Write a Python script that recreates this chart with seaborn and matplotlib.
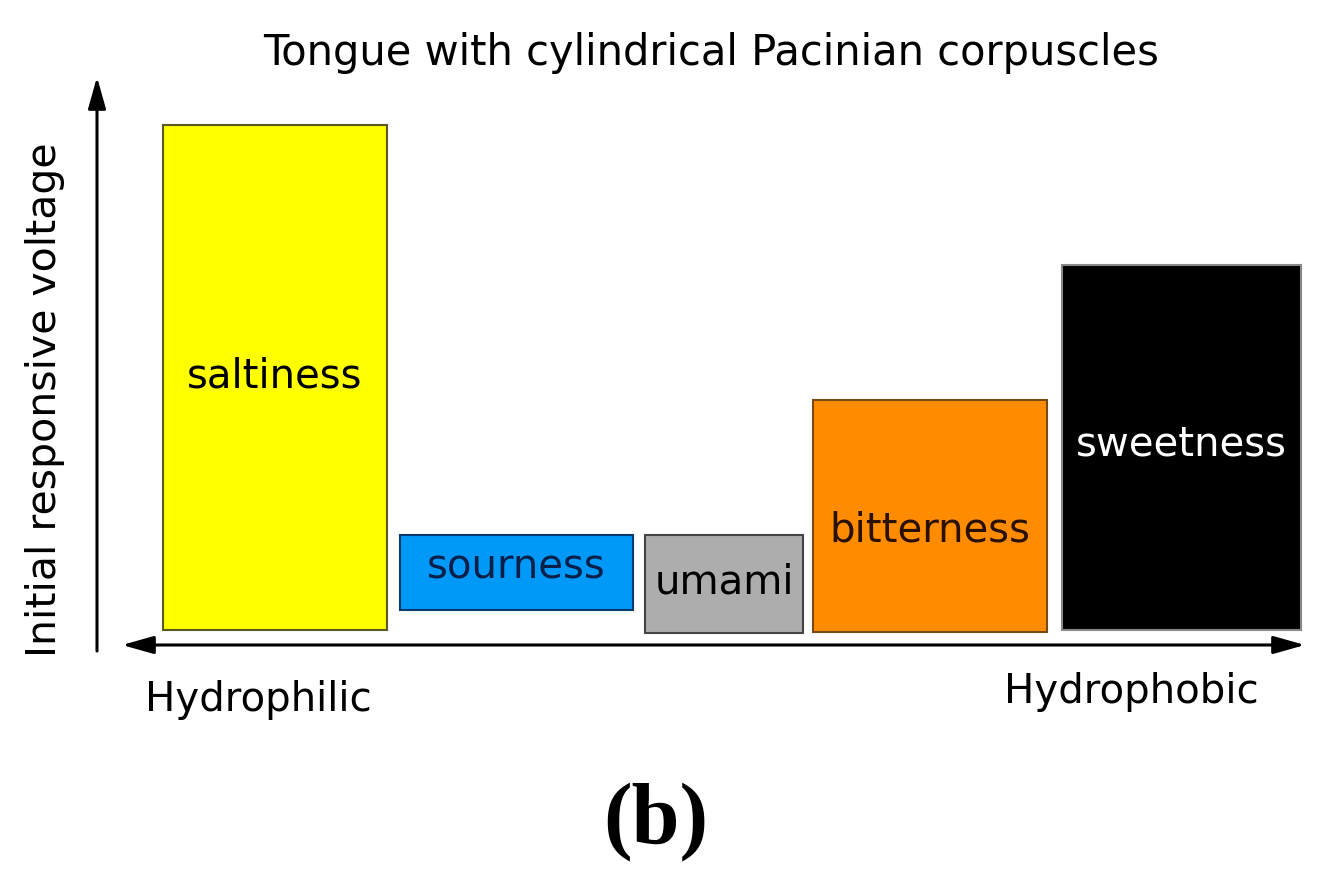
import matplotlib
matplotlib.use("Agg")
import matplotlib.pyplot as plt
import seaborn as sns

# taste responses (arbitrary voltage units, baseline = axis)
tastes = ["saltiness", "sourness", "umami", "bitterness", "sweetness"]
voltage_top = [520, 110, 110, 245, 380]
voltage_bottom = [15, 35, 12, 13, 15]

# layout along the hydrophilic -> hydrophobic axis
bar_left = [66, 303, 548, 716, 965]
bar_width = [224, 233, 158, 234, 239]
label_y = [268, 78, 63, 115, 200]

face_colors = ["#FFFF00", "#0099F7", "#ADADAD", "#FF8C00", "#000000"]
edge_colors = ["#5a5a20", "#0b3a70", "#444444", "#7a4a10", "#888888"]
text_colors = ["#000000", "#06204a", "#000000", "#2a1000", "#FFFFFF"]

sns.set_theme(style="white")
plt.rcParams["font.family"] = ["DejaVu Sans"]
plt.rcParams["text.color"] = "black"

fig = plt.figure(figsize=(13.24, 8.8), dpi=100)
ax = fig.add_axes([97 / 1324, 235 / 880, 1208 / 1324, 565 / 880])
ax.set_xlim(0, 1208)
ax.set_ylim(0, 565)

heights = [t - b for t, b in zip(voltage_top, voltage_bottom)]
ax.bar(bar_left, heights, width=bar_width, bottom=voltage_bottom, align="edge",
       color=face_colors, edgecolor=edge_colors, linewidth=1.5, clip_on=False)

for name, x0, w, y, c in zip(tastes, bar_left, bar_width, label_y, text_colors):
    ax.text(x0 + w / 2, y, name, ha="center", va="center", fontsize=29, color=c)

# axis arrows
ax.annotate("", xy=(0, 568), xytext=(0, -6), annotation_clip=False,
            arrowprops=dict(arrowstyle="-|>,head_length=1.6,head_width=0.45",
                            color="black", lw=2.2, shrinkA=0, shrinkB=0))
ax.annotate("", xy=(25, 0), xytext=(1208, 0), annotation_clip=False,
            arrowprops=dict(arrowstyle="<|-|>,head_length=1.6,head_width=0.45",
                            color="black", lw=2.2, shrinkA=0, shrinkB=0))

ax.set_xticks([])
ax.set_yticks([])
sns.despine(ax=ax, left=True, bottom=True)
ax.patch.set_alpha(0)

fig.text(711 / 1324, 1 - 53 / 880, "Tongue with cylindrical Pacinian corpuscles",
         ha="center", va="center", fontsize=30)
fig.text(45 / 1324, 1 - 400 / 880, "Initial responsive voltage", rotation=90,
         ha="center", va="center", fontsize=29.5)
fig.text(258 / 1324, 1 - 700 / 880, "Hydrophilic", ha="center", va="center", fontsize=29)
fig.text(1131 / 1324, 1 - 692 / 880, "Hydrophobic", ha="center", va="center", fontsize=29)
fig.text(656 / 1324, 1 - 822 / 880, "(b)", ha="center", va="center", fontsize=62,
         fontweight="bold", family=["Liberation Serif", "DejaVu Serif"])

fig.savefig("out.png", dpi=100)
